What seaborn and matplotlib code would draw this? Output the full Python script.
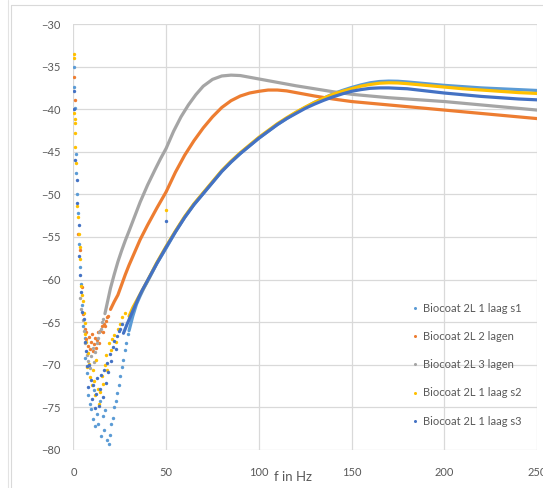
import matplotlib
matplotlib.use("Agg")
import matplotlib.pyplot as plt
import seaborn as sns
import pandas as pd
from matplotlib.lines import Line2D

series_names = ["Biocoat 2L 1 laag s1", "Biocoat 2L 2 lagen", "Biocoat 2L 3 lagen",
                "Biocoat 2L 1 laag s2", "Biocoat 2L 1 laag s3"]
series_colors = ["#5B9BD5", "#ED7D31", "#A5A5A5", "#FFC000", "#4472C4"]

# smooth part of each sweep
s1_f = [30, 32, 34, 36, 38, 40, 45, 50, 55, 60, 65, 70, 75, 80, 85, 90, 95, 100, 105, 110,
        115, 120, 125, 130, 135, 140, 145, 150, 155, 160, 165, 170, 175, 180, 190, 200, 210,
        220, 230, 240, 250]
s1_db = [-66.0, -64.3, -62.9, -61.9, -61.0, -60.2, -58.1, -56.3, -54.4, -52.7, -51.2, -49.9,
         -48.6, -47.3, -46.2, -45.2, -44.3, -43.4, -42.6, -41.8, -41.1, -40.4, -39.8, -39.2,
         -38.7, -38.2, -37.8, -37.45, -37.15, -36.9, -36.75, -36.7, -36.72, -36.8, -37.0,
         -37.2, -37.35, -37.5, -37.6, -37.7, -37.8]

s2_f = s1_f
s2_db = [-64.3, -63.3, -62.5, -61.7, -60.9, -60.1, -58.0, -56.1, -54.3, -52.6, -51.1, -49.8,
         -48.5, -47.2, -46.1, -45.1, -44.2, -43.3, -42.5, -41.7, -41.0, -40.35, -39.75, -39.2,
         -38.7, -38.25, -37.9, -37.6, -37.3, -37.1, -36.95, -36.9, -36.92, -37.0, -37.2,
         -37.4, -37.6, -37.75, -37.9, -38.05, -38.15]

s3_f = [27, 29, 31, 33, 35, 37, 40, 45, 50, 55, 60, 65, 70, 75, 80, 85, 90, 95, 100, 105, 110,
        115, 120, 125, 130, 135, 140, 145, 150, 155, 160, 165, 170, 175, 180, 190, 200, 210,
        220, 230, 240, 250]
s3_db = [-66.3, -65.2, -64.2, -63.2, -62.2, -61.3, -60.1, -58.1, -56.2, -54.4, -52.7, -51.2,
         -49.9, -48.6, -47.3, -46.2, -45.2, -44.3, -43.4, -42.6, -41.8, -41.1, -40.5, -39.9,
         -39.4, -38.95, -38.55, -38.2, -37.9, -37.7, -37.55, -37.5, -37.5, -37.55, -37.6,
         -37.85, -38.1, -38.3, -38.5, -38.65, -38.8, -38.9]

l2_f = [20, 22, 24, 26, 28, 30, 33, 36, 40, 45, 50, 55, 60, 65, 70, 75, 80, 85, 90, 95, 100,
        105, 110, 115, 120, 130, 140, 150, 160, 170, 180, 190, 200, 210, 220, 230, 240, 250]
l2_db = [-63.5, -62.6, -61.8, -60.6, -59.4, -58.3, -56.8, -55.3, -53.6, -51.6, -49.7, -47.4,
         -45.4, -43.7, -42.2, -40.9, -39.8, -39.0, -38.45, -38.1, -37.9, -37.75, -37.75,
         -37.85, -38.05, -38.45, -38.8, -39.1, -39.3, -39.5, -39.7, -39.9, -40.1, -40.3,
         -40.5, -40.7, -40.9, -41.1]

l3_f = [17, 18, 20, 22, 24, 26, 28, 30, 33, 36, 40, 44, 47, 50, 54, 58, 62, 66, 70, 75, 80,
        85, 90, 95, 100, 105, 110, 115, 120, 130, 140, 150, 160, 170, 180, 190, 200, 210,
        220, 230, 240, 250]
l3_db = [-64.0, -63.0, -61.0, -59.4, -57.9, -56.6, -55.4, -54.3, -52.6, -50.9, -48.9, -47.1,
         -45.8, -44.6, -42.6, -40.9, -39.5, -38.3, -37.3, -36.5, -36.1, -36.0, -36.05, -36.25,
         -36.45, -36.65, -36.85, -37.05, -37.25, -37.6, -37.95, -38.25, -38.45, -38.65, -38.8,
         -38.95, -39.1, -39.3, -39.5, -39.7, -39.9, -40.1]

# scattered low-frequency points
s1_low_f = [0.3, 0.4, 0.6, 1.2, 1.6, 2.0, 2.4, 3.0, 3.8, 4.2, 4.5, 5.2, 6.0, 6.5, 7.4, 8.1,
            8.8, 9.5, 10.3, 11.0, 11.8, 12.6, 13.5, 14.2, 15.0, 15.8, 16.5, 17.3, 18.2, 19.0,
            19.7, 20.5, 21.3, 22.0, 22.8, 23.6, 24.4, 25.2, 26.0, 26.8, 27.6, 28.4, 29.2]
s1_low_db = [-35.0, -37.4, -39.8, -45.2, -47.5, -49.9, -52.2, -55.8, -58.5, -60.5, -63.0,
             -65.4, -66.8, -69.2, -71.0, -73.5, -74.6, -75.2, -76.4, -73.0, -77.2, -75.8,
             -76.9, -74.3, -78.4, -76.0, -77.6, -75.3, -78.8, -79.3, -78.2, -77.0, -76.3,
             -75.0, -74.2, -73.3, -72.4, -71.3, -70.3, -69.4, -68.3, -67.4, -66.4]

s3_low_f = [0.2, 0.5, 1.0, 1.8, 2.2, 2.8, 3.2, 3.6, 4.0, 4.8, 5.5, 6.2, 6.8, 7.5, 8.0, 8.6,
            9.3, 10.0, 10.8, 11.5, 12.2, 12.9, 13.6, 14.4, 15.1, 15.9, 16.7, 17.4, 18.1,
            18.9, 19.6, 20.4, 21.2, 22.0, 22.8, 23.6, 24.4, 25.2, 26.0, 50.0]
s3_low_db = [-37.9, -40.0, -46.0, -48.3, -51.0, -53.6, -57.2, -59.5, -61.5, -63.8, -64.6,
             -67.3, -68.4, -70.2, -72.6, -70.0, -71.8, -74.0, -72.4, -75.1, -73.4, -71.6,
             -74.8, -72.9, -71.2, -73.8, -70.6, -72.1, -69.8, -70.9, -68.7, -69.5, -67.9,
             -67.2, -68.2, -66.6, -66.0, -65.8, -65.2, -53.1]

s2_low_f = [0.2, 0.3, 0.5, 0.7, 0.9, 0.9, 1.1, 1.4, 2.2, 2.5, 2.8, 3.3, 3.6, 4.0, 4.5, 5.0,
            5.6, 6.0, 6.5, 7.0, 7.4, 8.0, 8.5, 9.1, 9.8, 10.5, 11.0, 11.7, 12.4, 13.0, 13.8,
            14.5, 15.2, 16.0, 16.8, 17.5, 18.3, 19.2, 20.0, 21.0, 22.0, 23.0, 24.0, 25.0,
            26.2, 28.0, 50.0]
s2_low_db = [-33.5, -34.0, -40.4, -41.2, -41.6, -42.8, -44.4, -46.3, -51.4, -52.6, -54.6,
             -56.2, -57.6, -60.8, -61.8, -62.5, -63.9, -65.1, -66.4, -67.3, -70.3, -68.6,
             -69.9, -71.4, -72.4, -70.6, -71.9, -73.6, -69.4, -72.8, -74.6, -73.2, -71.3,
             -72.2, -70.0, -68.9, -70.6, -67.5, -68.3, -67.0, -66.5, -67.3, -65.8, -65.2,
             -64.4, -63.9, -51.8]

l2_low_f = [0.3, 0.6, 2.6, 3.4, 4.5, 5.2, 6.0, 6.6, 7.0, 7.6, 8.2, 8.8, 9.3, 9.9, 10.4, 11.0,
            11.6, 12.2, 12.8, 13.4, 14.0, 14.6, 15.2, 15.8, 16.4, 17.0, 17.6, 18.2, 18.8]
l2_low_db = [-36.2, -38.9, -54.6, -56.5, -60.9, -64.0, -65.8, -67.0, -66.2, -67.8, -66.7,
             -68.1, -67.3, -66.4, -68.4, -67.6, -66.9, -68.0, -67.1, -66.2, -67.4, -66.0,
             -65.4, -66.1, -65.2, -65.5, -64.9, -64.4, -64.3]

l3_low_f = [3.5, 4.2, 5.0, 5.8, 6.5, 7.2, 8.0, 8.8, 9.5, 10.3, 11.0, 11.8, 12.5, 13.2, 14.0,
            14.8, 15.5, 16.2]
l3_low_db = [-62.2, -63.5, -64.8, -66.0, -67.5, -68.8, -69.5, -70.4, -69.0, -68.0, -69.7,
             -68.5, -67.4, -66.9, -66.2, -65.8, -65.0, -64.6]

curves = [(s1_f, s1_db), (l2_f, l2_db), (l3_f, l3_db), (s2_f, s2_db), (s3_f, s3_db)]
lows = [(s1_low_f, s1_low_db), (l2_low_f, l2_low_db), (l3_low_f, l3_low_db),
        (s2_low_f, s2_low_db), (s3_low_f, s3_low_db)]

sns.set_theme(style="white")
plt.rcParams["font.family"] = ["Lato", "DejaVu Sans"]

fig = plt.figure(figsize=(5.43, 4.88), dpi=100)
ax = fig.add_axes([0.1352, 0.0779, 0.8538, 0.8729])

for name, color, (cf, cdb), (lf, ldb) in zip(series_names, series_colors, curves, lows):
    low = pd.DataFrame({"f": lf, "db": ldb})
    sns.scatterplot(data=low, x="f", y="db", color=color, s=6, linewidth=0, ax=ax, zorder=3)
    cur = pd.DataFrame({"f": cf, "db": cdb})
    sns.lineplot(data=cur, x="f", y="db", color=color, lw=2.3, sort=False, ax=ax, zorder=3,
                 solid_capstyle="round")

ax.set_xlim(0, 250)
ax.set_ylim(-80, -30)
ax.set_xticks(range(0, 251, 50))
ax.set_yticks(range(-80, -29, 5))
ax.grid(True, color="#D9D9D9", lw=0.9)
for sp in ax.spines.values():
    sp.set_visible(False)
ax.tick_params(length=0, labelsize=8, labelcolor="#595959")
ax.tick_params(axis="y", pad=9)
ax.tick_params(axis="x", pad=12)
ax.set_ylabel("")
ax.set_xlabel("f in Hz", fontsize=9.5, color="#595959")
ax.xaxis.set_label_coords(0.474, -0.063)
ax.xaxis.label.set_va("center")

handles = [Line2D([], [], ls="none", marker="o", ms=2.2, mec="none", mfc=c) for c in series_colors]
ax.legend(handles, series_names, loc="upper left", bbox_to_anchor=(0.72, 0.356),
          frameon=False, fontsize=8, labelcolor="#595959", handlelength=0.6,
          handletextpad=0.4, labelspacing=1.55, borderaxespad=0)

# outer chart frame
fig.add_artist(Line2D([7.5 / 543, 7.5 / 543], [0, 1], color="#E3E3E3", lw=0.8))
fig.add_artist(Line2D([10.5 / 543, 10.5 / 543], [0, 1 - 5 / 488], color="#D9D9D9", lw=0.8))
fig.add_artist(Line2D([10.5 / 543, 1], [1 - 5 / 488, 1 - 5 / 488], color="#D9D9D9", lw=0.8))

fig.savefig("out.png", dpi=100)
